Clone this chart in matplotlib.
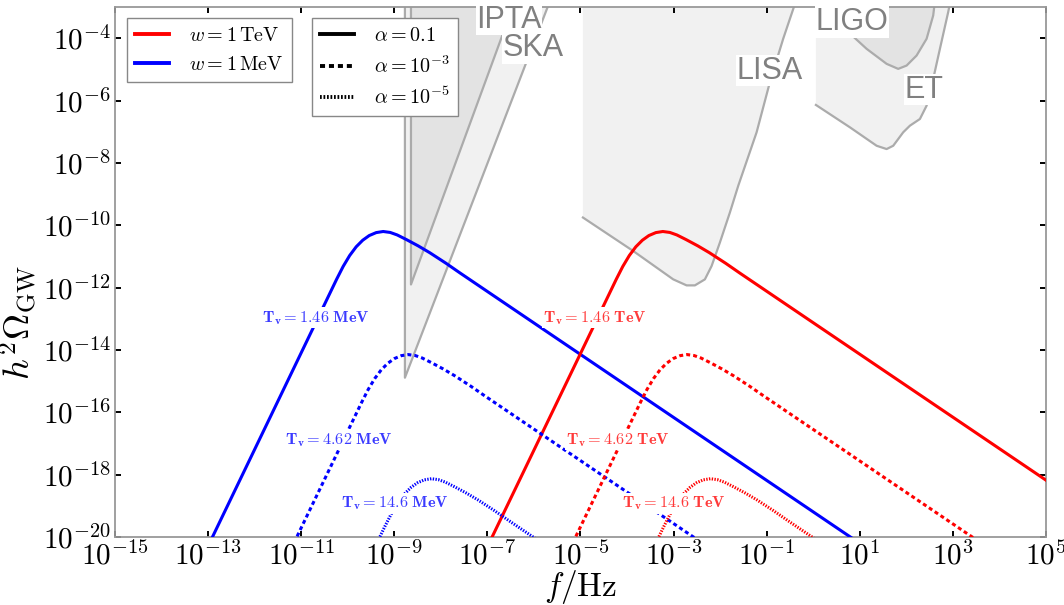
import numpy as np
import matplotlib
matplotlib.use("Agg")
import matplotlib.pyplot as plt
from matplotlib.lines import Line2D

plt.rcParams['mathtext.fontset'] = 'cm'

# spectral shape around the peak: offsets in log10(f) and log10(h^2 Omega)
shape_dlogf = [-3.91, -1.00, -0.86, -0.72, -0.58, -0.44, -0.30, -0.15, 0.0,
               0.15, 0.30, 0.50, 0.75, 1.00, 1.35, 1.65, 10.68]
shape_dlogo = [-10.55, -1.53, -1.12, -0.77, -0.49, -0.28, -0.13, -0.035, 0.0,
               -0.03, -0.11, -0.26, -0.46, -0.68, -1.02, -1.33, -10.45]

# peaks for alpha = 0.1, 1e-3, 1e-5
alphas = ['0.1', '10^{-3}', '10^{-5}']
fpeak_mev = [5.8e-10, 2.0e-9, 6.3e-9]
fpeak_tev = [5.9e-4, 1.95e-3, 6.2e-3]
omega_peak = [6.3e-11, 7.1e-15, 7.4e-19]
tv_values = ['1.46', '4.62', '14.6']
tv_x_mev = [2.05e-11, 6.5e-11, 1.03e-9]
tv_x_tev = [2.05e-5, 6.5e-5, 1.03e-3]
tv_y = [1.07e-13, 1.32e-17, 1.2e-19]

# sensitivity regions (log10 f, log10 h^2 Omega)
ska_f = [-8.77, -8.77, -6.15, -5.575]
ska_o = [-2.5, -14.89, -4.73, -2.5]
ipta_f = [-8.64, -8.64, -6.69, -6.33]
ipta_o = [-2.5, -11.90, -3.96, -2.5]
lisa_f = [-4.946, -3.866, -3.006, -2.719, -2.541, -2.326, -2.182, -2.004,
          -1.789, -1.610, -1.215, -0.930, -0.644, -0.414, -0.26]
lisa_o = [-9.752, -10.826, -11.736, -11.929, -11.929, -11.736, -11.309,
          -10.556, -9.592, -8.736, -7.019, -5.412, -4.019, -3.0, -2.5]
et_f = [0.059, 0.790, 1.363, 1.578, 1.720, 1.934, 2.078, 2.293, 2.437,
        2.579, 2.723, 2.901, 2.99]
et_o = [-6.141, -6.859, -7.450, -7.556, -7.450, -7.019, -6.807, -6.592,
        -6.164, -5.305, -4.341, -3.161, -2.5]
ligo_f = [0.10, 0.718, 1.148, 1.578, 1.827, 2.007, 2.222, 2.437, 2.579, 2.64]
ligo_o = [-2.5, -3.752, -4.341, -4.823, -4.984, -4.878, -4.556, -4.019,
          -3.270, -2.5]

det_labels = ['IPTA', 'SKA', 'LISA', 'LIGO', 'ET']
det_label_f = [-6.536, -6.020, -0.929, 0.832, 2.379]
det_label_o = [-3.41, -4.33, -5.04, -3.48, -5.65]

light = '#f1f1f1'
dark = '#e3e3e3'
edge = '#ababab'
styles = ['-', (0, (1.3, 1.0)), (0, (0.45, 0.45))]

fig = plt.figure(figsize=(10.64, 6.05), dpi=100)
ax = fig.add_axes([0.108, 0.1124, 0.875, 0.876])
ax.set_xscale('log')
ax.set_yscale('log')


def p10(v):
    return 10.0 ** np.asarray(v)


# SKA / IPTA wedges, both outlined
ax.fill(p10(ska_f), p10(ska_o), color=light, zorder=1, lw=0)
ax.plot(p10(ska_f), p10(ska_o), color=edge, lw=1.6, zorder=1.5)
ax.fill(p10(ipta_f), p10(ipta_o), color=dark, zorder=1.2, lw=0)
ax.plot(p10(ipta_f), p10(ipta_o), color=edge, lw=1.6, zorder=1.5)

# LISA: filled to the top, only the lower boundary drawn
lf = [lisa_f[0]] + lisa_f
lo = [-2.5] + lisa_o
ax.fill(p10(lf), p10(lo), color=light, zorder=1, lw=0)
ax.plot(p10(lisa_f), p10(lisa_o), color=edge, lw=1.6, zorder=1.5)

# ET and LIGO
ef = [et_f[0]] + et_f
eo = [-2.5] + et_o
ax.fill(p10(ef), p10(eo), color=light, zorder=1, lw=0)
ax.plot(p10(et_f), p10(et_o), color=edge, lw=1.6, zorder=1.5)
ax.fill(p10(ligo_f), p10(ligo_o), color=dark, zorder=1.2, lw=0)
ax.plot(p10(ligo_f), p10(ligo_o), color=edge, lw=1.6, zorder=1.5)

for name, xf, yo in zip(det_labels, det_label_f, det_label_o):
    ax.text(10 ** xf, 10 ** yo, name, family='Liberation Sans', fontsize=22,
            color='#808080', ha='center', va='center', zorder=4,
            bbox=dict(facecolor='white', edgecolor='none', pad=0.5))

# GW spectra
tv_box = dict(facecolor='white', edgecolor='none', pad=1.0)
for i in range(3):
    for fp, col in ((fpeak_mev[i], 'blue'), (fpeak_tev[i], 'red')):
        f = fp * p10(shape_dlogf)
        om = omega_peak[i] * p10(shape_dlogo)
        ax.plot(f, om, color=col, lw=2.2, linestyle=styles[i], zorder=3)
    ax.text(tv_x_mev[i], tv_y[i],
            r'$\mathbf{T_v = %s\ MeV}$' % tv_values[i],
            color='#3a3aff', fontsize=11.7, ha='center', va='center',
            zorder=4, bbox=tv_box)
    ax.text(tv_x_tev[i], tv_y[i],
            r'$\mathbf{T_v = %s\ TeV}$' % tv_values[i],
            color='#ff3a3a', fontsize=11.7, ha='center', va='center',
            zorder=4, bbox=tv_box)

ax.set_xlim(1e-15, 1e5)
ax.set_ylim(1e-20, 1e-3)
ax.minorticks_off()
xexp = list(range(-15, 6, 2))
yexp = list(range(-20, -3, 2))
ax.set_xticks([10.0 ** e for e in xexp])
ax.set_xticklabels([r'$10^{%d}$' % e for e in xexp])
ax.set_yticks([10.0 ** e for e in yexp])
ax.set_yticklabels([r'$10^{%d}$' % e for e in yexp])
ax.tick_params(which='both', direction='in', top=True, right=True,
               length=4, width=1.4, labelsize=21, pad=3)
for s in ax.spines.values():
    s.set_color('#999999')
    s.set_linewidth(1.3)

ax.set_xlabel(r'$f/\mathrm{Hz}$', fontsize=24, labelpad=-2)
ax.set_ylabel(r'$h^2\Omega_{\rm GW}$', fontsize=26)
ax.yaxis.set_label_coords(-0.080, 0.405)

h1 = [Line2D([], [], color='red', lw=2.8), Line2D([], [], color='blue', lw=2.8)]
leg1 = ax.legend(h1, [r'$w = 1\,\mathrm{TeV}$', r'$w = 1\,\mathrm{MeV}$'],
                 loc='upper left', bbox_to_anchor=(0.013, 0.979),
                 borderaxespad=0, fontsize=14.5, fancybox=False,
                 edgecolor='#888888', framealpha=1, handlelength=1.7,
                 handletextpad=1.0, labelspacing=0.5)
leg1.get_frame().set_linewidth(1.0)
ax.add_artist(leg1)
h2 = [Line2D([], [], color='black', lw=2.8, linestyle=s) for s in styles]
leg2 = ax.legend(h2, [r'$\alpha = %s$' % a for a in alphas],
                 loc='upper left', bbox_to_anchor=(0.2116, 0.979),
                 borderaxespad=0, fontsize=14.5, fancybox=False,
                 edgecolor='#888888', framealpha=1, handlelength=1.7,
                 handletextpad=1.0, labelspacing=0.5)
leg2.get_frame().set_linewidth(1.0)
leg2.set_zorder(5)

fig.savefig('out.png', dpi=100)
